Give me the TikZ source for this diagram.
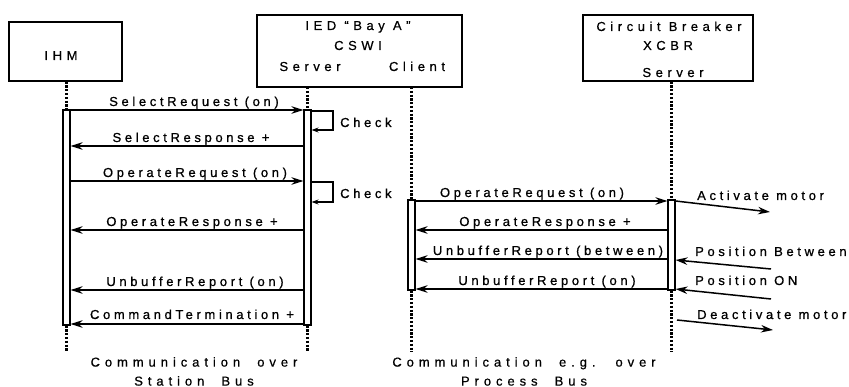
\documentclass[tikz,border=0pt]{standalone}
\usepackage{fontspec}
\setmainfont{Liberation Sans}
\newfontfamily\lblfont[LetterSpace=28,FakeBold=0.8]{Liberation Sans}
\newfontfamily\hdrfont[LetterSpace=35,FakeBold=0.6]{Liberation Sans}
\newfontfamily\widefont[LetterSpace=38,WordSpace=2,FakeBold=0.6]{Liberation Sans}
\usetikzlibrary{arrows.meta}
\begin{document}
\begin{tikzpicture}[x=1pt,y=-1pt,
  box/.style={draw, line width=1.3pt, inner sep=0pt},
  bar/.style={draw, fill=white, line width=1.1pt, minimum width=7pt, inner sep=0pt},
  life/.style={line width=2.2pt, dash pattern=on 2.2pt off 1.6pt},
  msg/.style={line width=1.5pt, -{Stealth[length=12pt,width=7.5pt]}},
  loopmsg/.style={line width=1.4pt, -{Stealth[length=7pt,width=5pt]}},
  lbl/.style={font=\lblfont\fontsize{13}{15}\selectfont, inner sep=0pt, anchor=base},
  hdr/.style={font=\hdrfont\fontsize{13}{15}\selectfont, inner sep=0pt, anchor=base},
  bus/.style={font=\widefont\fontsize{13}{19}\selectfont, inner sep=0pt, align=center, anchor=north},
]
\useasboundingbox (0,0) rectangle (849,387);

% header boxes
\node[box, minimum width=113pt, minimum height=59pt] (ihm) at (65.5,51.5) {};
\node[box, minimum width=205pt, minimum height=72pt] (ied) at (359.5,51) {};
\node[box, minimum width=170pt, minimum height=66pt] (cb) at (668,48) {};

\node[hdr] (tihm) at (61,60) {IHM};
\node[hdr] (tied) at (358,30) {IED “Bay A”};
\node[hdr] (tcswi) at (358,50) {CSWI};
\node[hdr] (tsrv) at (310,71) {Server};
\node[hdr] (tcli) at (417,71) {Client};
\node[hdr] (tcb) at (669,31) {Circuit Breaker};
\node[hdr] (txcbr) at (668,50) {XCBR};
\node[hdr] (tcbs) at (673,77) {Server};

% activation bars
\node[bar, minimum height=215pt] (ihmbar) at (66.5,217.5) {};
\node[bar, minimum height=215pt] (srvbar) at (307.5,217.5) {};
\node[bar, minimum height=90pt] (clibar) at (411.5,245) {};
\node[bar, minimum height=90pt] (cbbar) at (671.5,245) {};

% lifelines
\coordinate (iedbot) at (307.5,87);
\coordinate (clitop) at (411.5,87);
\coordinate (lifeend) at (0,352);
\draw[life] (ihmbar.north |- ihm.south) -- (ihmbar.north);
\draw[life] (ihmbar.south) -- (ihmbar.south |- lifeend);
\draw[life] (iedbot) -- (srvbar.north);
\draw[life] (srvbar.south) -- (srvbar.south |- lifeend);
\draw[life] (clitop) -- (clibar.north);
\draw[life] (clibar.south) -- (clibar.south |- lifeend);
\draw[life] (cbbar.north |- cb.south) -- (cbbar.north);
\draw[life] (cbbar.south) -- (cbbar.south |- lifeend);

% station bus messages
\coordinate (m1) at (0,110);
\coordinate (m2) at (0,146);
\coordinate (m3) at (0,181);
\coordinate (m4) at (0,230);
\coordinate (m5) at (0,290);
\coordinate (m6) at (0,324);
\draw[msg] (ihmbar.east |- m1) -- (srvbar.west |- m1);
\draw[msg] (srvbar.west |- m2) -- (ihmbar.east |- m2);
\draw[msg] (ihmbar.east |- m3) -- (srvbar.west |- m3);
\draw[msg] (srvbar.west |- m4) -- (ihmbar.east |- m4);
\draw[msg] (srvbar.west |- m5) -- (ihmbar.east |- m5);
\draw[msg] (srvbar.west |- m6) -- (ihmbar.east |- m6);

\node[lbl] (l1) at (194,106) {SelectRequest (on)};
\node[lbl] (l2) at (191,142) {SelectResponse +};
\node[lbl] (l3) at (195,177) {OperateRequest (on)};
\node[lbl] (l4) at (192,226) {OperateResponse +};
\node[lbl] (l5) at (195,286) {UnbufferReport (on)};
\node[lbl] (l6) at (192,319) {CommandTermination +};

% check loops
\coordinate (c1a) at (0,111);
\coordinate (c1b) at (333,130);
\coordinate (c2a) at (0,182);
\coordinate (c2b) at (333,202);
\draw[loopmsg] (srvbar.east |- c1a) -- (c1b |- c1a) -- (c1b) -- (srvbar.east |- c1b);
\draw[loopmsg] (srvbar.east |- c2a) -- (c2b |- c2a) -- (c2b) -- (srvbar.east |- c2b);
\node[lbl, anchor=base west] (k1) at (340,127) {Check};
\node[lbl, anchor=base west] (k2) at (340,198) {Check};

% process bus messages
\coordinate (p1) at (0,201);
\coordinate (p2) at (0,230);
\coordinate (p3) at (0,259);
\coordinate (p4) at (0,289);
\draw[msg] (clibar.east |- p1) -- (cbbar.west |- p1);
\draw[msg] (cbbar.west |- p2) -- (clibar.east |- p2);
\draw[msg] (cbbar.west |- p3) -- (clibar.east |- p3);
\draw[msg] (cbbar.west |- p4) -- (clibar.east |- p4);
\node[lbl] (q1) at (532,197) {OperateRequest (on)};
\node[lbl] (q2) at (545,226) {OperateResponse +};
\node[lbl] (q3) at (548,255) {UnbufferReport (between)};
\node[lbl] (q4) at (547,285) {UnbufferReport (on)};

% breaker side
\coordinate (am) at (770,212);
\coordinate (pb) at (771,269);
\coordinate (pbe) at (0,260);
\coordinate (po) at (771,299);
\coordinate (poe) at (0,289);
\coordinate (dms) at (677,320);
\coordinate (dme) at (773,330);
\draw[msg] (cbbar.east |- p1) -- (am);
\draw[msg] (pb) -- (cbbar.east |- pbe);
\draw[msg] (po) -- (cbbar.east |- poe);
\draw[msg] (dms) -- (dme);
\node[lbl, anchor=base west] (e1) at (697,200) {Activate motor};
\node[lbl, anchor=base west] (e2) at (695,256) {Position Between};
\node[lbl, anchor=base west] (e3) at (695,285) {Position ON};
\node[lbl, anchor=base west] (e4) at (697,319) {Deactivate motor};

% bus captions
\node[bus] (sb) at (194,357) {Communication over\\Station Bus};
\node[bus] (pbus) at (524,357) {Communication e.g. over\\Process Bus};
\end{tikzpicture}
\end{document}
